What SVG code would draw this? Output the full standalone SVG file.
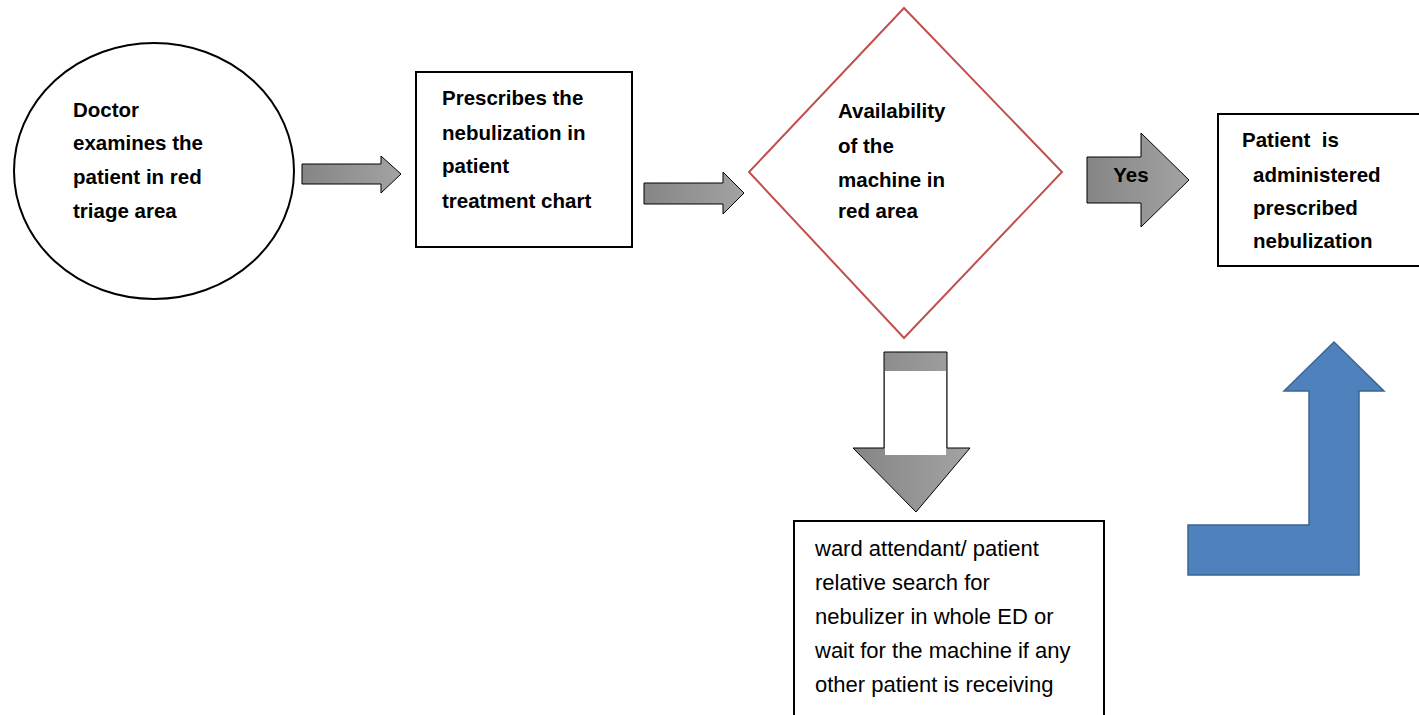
<svg xmlns="http://www.w3.org/2000/svg" width="1419" height="715" viewBox="0 0 1419 715">
<defs>
<linearGradient id="g" x1="0" y1="0" x2="1" y2="0"><stop offset="0" stop-color="#858585"/><stop offset="1" stop-color="#a3a3a3"/></linearGradient>
<style>
.b{font-family:"Liberation Sans",Arial,sans-serif;font-weight:bold;font-size:20.5px;fill:#000}
.n{font-family:"Liberation Sans",Arial,sans-serif;font-size:22px;fill:#000}
.box{fill:#fff;stroke:#000;stroke-width:2}
.ga{fill:url(#g);stroke:#000;stroke-width:1}
</style>
</defs>
<rect width="1419" height="715" fill="#fff"/>
<g id="n1">
<ellipse cx="154" cy="171" rx="140" ry="128" class="box"/>
<text class="b"><tspan x="73" y="117">Doctor</tspan><tspan x="73" y="150">examines the</tspan><tspan x="73" y="184">patient in red</tspan><tspan x="73" y="218">triage area</tspan></text>
</g>
<g id="n2">
<rect x="416" y="72" width="216" height="175" class="box"/>
<text class="b"><tspan x="442" y="105">Prescribes the</tspan><tspan x="442" y="140">nebulization in</tspan><tspan x="442" y="173">patient</tspan><tspan x="442" y="208">treatment chart</tspan></text>
</g>
<g id="n3">
<polygon points="904,8 1062,172 904,338 749,172" fill="#fff" stroke="#c0504d" stroke-width="2"/>
<text class="b"><tspan x="838" y="118">Availability</tspan><tspan x="838" y="153">of the</tspan><tspan x="838" y="187">machine in</tspan><tspan x="838" y="218">red area</tspan></text>
</g>
<g id="n4">
<rect x="1218" y="114" width="210" height="152" class="box"/>
<text class="b" style="white-space:pre"><tspan x="1242" y="147">Patient  is</tspan><tspan x="1253" y="182">administered</tspan><tspan x="1253" y="215">prescribed</tspan><tspan x="1253" y="248">nebulization</tspan></text>
</g>
<g id="n5">
<rect x="794" y="521" width="310" height="200" class="box"/>
<text class="n"><tspan x="815" y="556">ward attendant/ patient</tspan><tspan x="815" y="590">relative search for</tspan><tspan x="815" y="624">nebulizer in whole ED or</tspan><tspan x="815" y="658">wait for the machine if any</tspan><tspan x="815" y="692">other patient is receiving</tspan></text>
</g>
<g id="connectors">
<polygon class="ga" points="302,164 381,164 381,156 401,174 381,193 381,184 302,184"/>
<polygon class="ga" points="644,183 723,183 723,172 744,193 723,214 723,204 644,204"/>
<polygon class="ga" points="1087,157 1141,157 1141,133 1189,180 1141,227 1141,203 1087,203"/>
<text class="b" x="1131" y="182" text-anchor="middle" font-size="15">Yes</text>
<polygon class="ga" points="884,352 947,352 947,448 970,448 916,512 853,448 884,448"/>
<rect x="885" y="371" width="61" height="84" fill="#fff"/>
<path d="M1188,525 L1309,525 L1309,391 L1284,391 L1334,342 L1384,391 L1359,391 L1359,575 L1188,575 Z" fill="#4f81bd" stroke="#3b6593" stroke-width="1.5"/>
</g>
</svg>
